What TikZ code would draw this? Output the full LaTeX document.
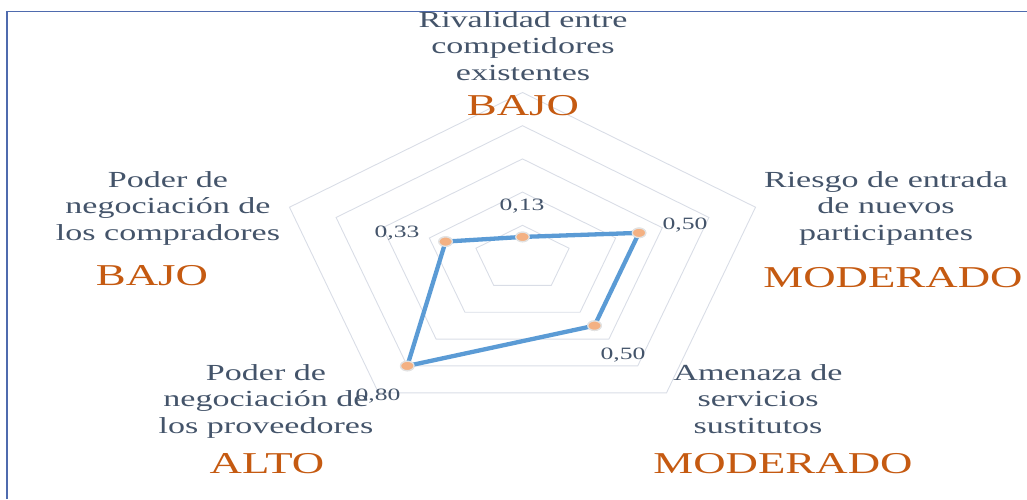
\documentclass[tikz,border=0pt]{standalone}
\usepackage{fontspec}
\setmainfont{Liberation Serif}[FakeStretch=1.48]
\usetikzlibrary{shapes.geometric}
\definecolor{txtc}{HTML}{44546A}
\definecolor{orng}{HTML}{C55A11}
\definecolor{bord}{HTML}{4F6BAE}
\definecolor{gridc}{HTML}{D9DDE6}
\definecolor{datac}{HTML}{5B9BD5}
\definecolor{mfill}{HTML}{F4B183}
\definecolor{mdraw}{HTML}{E2E2E2}
\tikzset{
  cat/.style={align=center, anchor=base, inner sep=0pt, text=txtc, font=\fontsize{23}{26.5}\selectfont},
  lvl/.style={anchor=base, inner sep=0pt, text=orng, font=\fontsize{30.3}{34}\selectfont},
  val/.style={anchor=base, inner sep=0pt, text=txtc, font=\fontsize{17.3}{20}\selectfont},
  gridline/.style={draw=gridc, line width=0.9pt, line join=miter},
  dataline/.style={draw=datac, line width=4.3pt, line join=round},
  marker/.style={ellipse, minimum width=13.5pt, minimum height=9.5pt, inner sep=0pt, fill=mfill, draw=mdraw, line width=1.3pt},
  frame/.style={draw=bord, line width=1.8pt}
}
\begin{document}
\begin{tikzpicture}[x=1pt,y=-1pt]
\useasboundingbox (0,0) rectangle (1027,499);
% frame
\coordinate (fa) at (7,499);
\coordinate (fb) at (7,11.5);
\coordinate (fc) at (1027,11.5);
\draw[frame] (fa) -- (fb) -- (fc);
% grid pentagons
\foreach \v in {0.2,0.4,0.6,0.8,1.0}{
  \draw[gridline] plot[samples at={90,18,-54,-126,-198}] ({522.5+\v*245*cos(\x)},{258.5-\v*166*sin(\x)}) -- cycle;
}
% data markers
\node[marker] (m1) at ({522.5+0.13*245*cos(90)},{258.5-0.13*166*sin(90)}) {};
\node[marker] (m2) at ({522.5+0.50*245*cos(18)},{258.5-0.50*166*sin(18)}) {};
\node[marker] (m3) at ({522.5+0.50*245*cos(-54)},{258.5-0.50*166*sin(-54)}) {};
\node[marker] (m4) at ({522.5+0.80*245*cos(-126)},{258.5-0.80*166*sin(-126)}) {};
\node[marker] (m5) at ({522.5+0.33*245*cos(-198)},{258.5-0.33*166*sin(-198)}) {};
\draw[dataline] (m1.center) -- (m2.center) -- (m3.center) -- (m4.center) -- (m5.center) -- cycle;
\foreach \m in {m1,m2,m3,m4,m5}{
  \node[marker] at (\m) {};
}
% value labels
\node[val] (v1) at (522,210) {0,13};
\node[val] (v2) at (685,229) {0,50};
\node[val] (v3) at (623,359) {0,50};
\node[val] (v4) at (378,400) {0,80};
\node[val] (v5) at (397,237) {0,33};
% category labels (anchor = baseline of last line)
\node[cat] (c1) at (523,80) {Rivalidad entre\\competidores\\existentes};
\node[cat] (c2) at (886,240) {Riesgo de entrada\\de nuevos\\participantes};
\node[cat] (c3) at (758,433) {Amenaza de\\servicios\\sustitutos};
\node[cat] (c4) at (266,433) {Poder de\\negociación de\\los proveedores};
\node[cat] (c5) at (168,240) {Poder de\\negociación de\\los compradores};
% levels
\node[lvl] (l1) at (523,115) {BAJO};
\node[lvl] (l2) at (893,287) {MODERADO};
\node[lvl] (l3) at (783,473) {MODERADO};
\node[lvl] (l4) at (267,473) {ALTO};
\node[lvl] (l5) at (152,285) {BAJO};
\end{tikzpicture}
\end{document}
